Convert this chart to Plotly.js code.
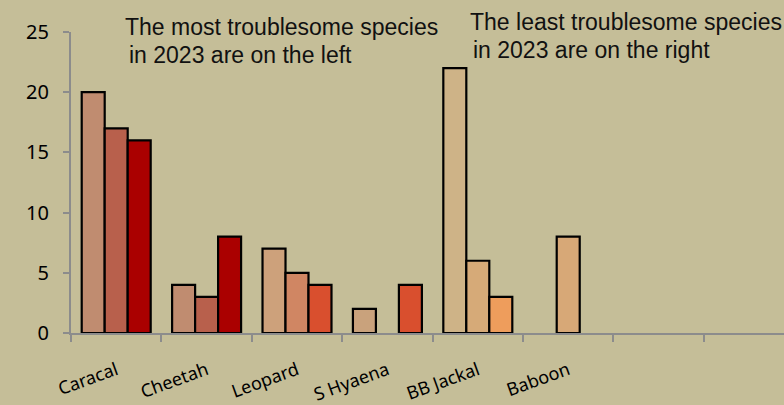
<!DOCTYPE html>
<html>
<head>
<meta charset="utf-8">
<script src="https://cdn.plot.ly/plotly-3.0.1.min.js"></script>
<style>html,body{margin:0;padding:0;background:#C5BE98;}#chart{width:784px;height:405px;}</style>
</head>
<body>
<div id="chart"></div>
<script>
// Categories (two trailing empty slots, as in the reference)
const categories = ['Caracal', 'Cheetah', 'Leopard', 'S Hyaena', 'BB Jackal', 'Baboon', ' ', '  '];

// Three yearly series (2023 is the third)
const series1 = [20, 4, 7, 2, 22, null, null, null];
const series2 = [17, 3, 5, null, 6, 8, null, null];
const series3 = [16, 8, 4, 4, 3, null, null, null];

const colors1 = ['#C08C70', '#C08C70', '#CDA17B', '#C9A27C', '#CEB387', '#D7A877', '#D7A877', '#D7A877'];
const colors2 = ['#B8604C', '#B8604C', '#D08663', '#D08663', '#D6AA78', '#D7A877', '#D7A877', '#D7A877'];
const colors3 = ['#AA0000', '#AA0000', '#D94F2E', '#D94F2E', '#EE9D5C', '#EE9D5C', '#EE9D5C', '#EE9D5C'];

const yTicks = [0, 5, 10, 15, 20, 25];

function bar(vals, cols) {
  return {
    type: 'bar', x: categories, y: vals,
    marker: {color: cols, line: {color: '#000000', width: 2.2}},
    hoverinfo: 'skip', showlegend: false
  };
}

const data = [bar(series1, colors1), bar(series2, colors2), bar(series3, colors3)];

const annFont = {family: 'Liberation Sans, Arial, sans-serif', size: 23, color: '#111111'};
const W = 784, H = 405, ml = 71, mr = 0, mt = 32, mb = 72;
function px(x) { return (x - ml) / (W - ml - mr); }
function py(y) { return (H - mb - y) / (H - mt - mb); }

const layout = {
  width: W, height: H,
  margin: {l: ml, r: mr, t: mt, b: mb, pad: 0},
  paper_bgcolor: '#C5BE98', plot_bgcolor: '#C5BE98',
  barmode: 'group', bargap: 0.237, bargroupgap: 0,
  xaxis: {
    type: 'category', categoryorder: 'array', categoryarray: categories,
    range: [-0.5, 7.387], fixedrange: true,
    showline: true, linecolor: '#8C8C8C', linewidth: 2,
    ticks: 'outside', tickson: 'boundaries', ticklen: 7, tickwidth: 2, tickcolor: '#8C8C8C',
    ticklabelstandoff: 18,
    tickangle: -20, tickfont: {family: 'Noto Sans, sans-serif', size: 18, color: '#000000'},
    showgrid: false, zeroline: false
  },
  yaxis: {
    range: [0, 25], tickvals: yTicks, ticktext: yTicks.map(String),
    showline: true, linecolor: '#8C8C8C', linewidth: 2,
    ticks: 'outside', ticklen: 6, tickwidth: 2, tickcolor: '#8C8C8C',
    ticklabelstandoff: 10,
    tickfont: {family: 'Noto Sans, sans-serif', size: 20, color: '#000000'},
    showgrid: false, zeroline: false, fixedrange: true
  },
  annotations: [
    {xref: 'paper', yref: 'paper', x: px(123), y: py(37), xanchor: 'left', yanchor: 'bottom', yshift: -5,
     text: 'The most troublesome species', showarrow: false, font: annFont},
    {xref: 'paper', yref: 'paper', x: px(127), y: py(65), xanchor: 'left', yanchor: 'bottom', yshift: -5,
     text: 'in 2023 are on the left', showarrow: false, font: annFont},
    {xref: 'paper', yref: 'paper', x: px(468), y: py(32), xanchor: 'left', yanchor: 'bottom', yshift: -5,
     text: 'The least troublesome species', showarrow: false, font: annFont},
    {xref: 'paper', yref: 'paper', x: px(471), y: py(60), xanchor: 'left', yanchor: 'bottom', yshift: -5,
     text: 'in 2023 are on the right', showarrow: false, font: annFont}
  ]
};

Plotly.newPlot('chart', data, layout, {displayModeBar: false, staticPlot: true});
</script>
</body>
</html>
